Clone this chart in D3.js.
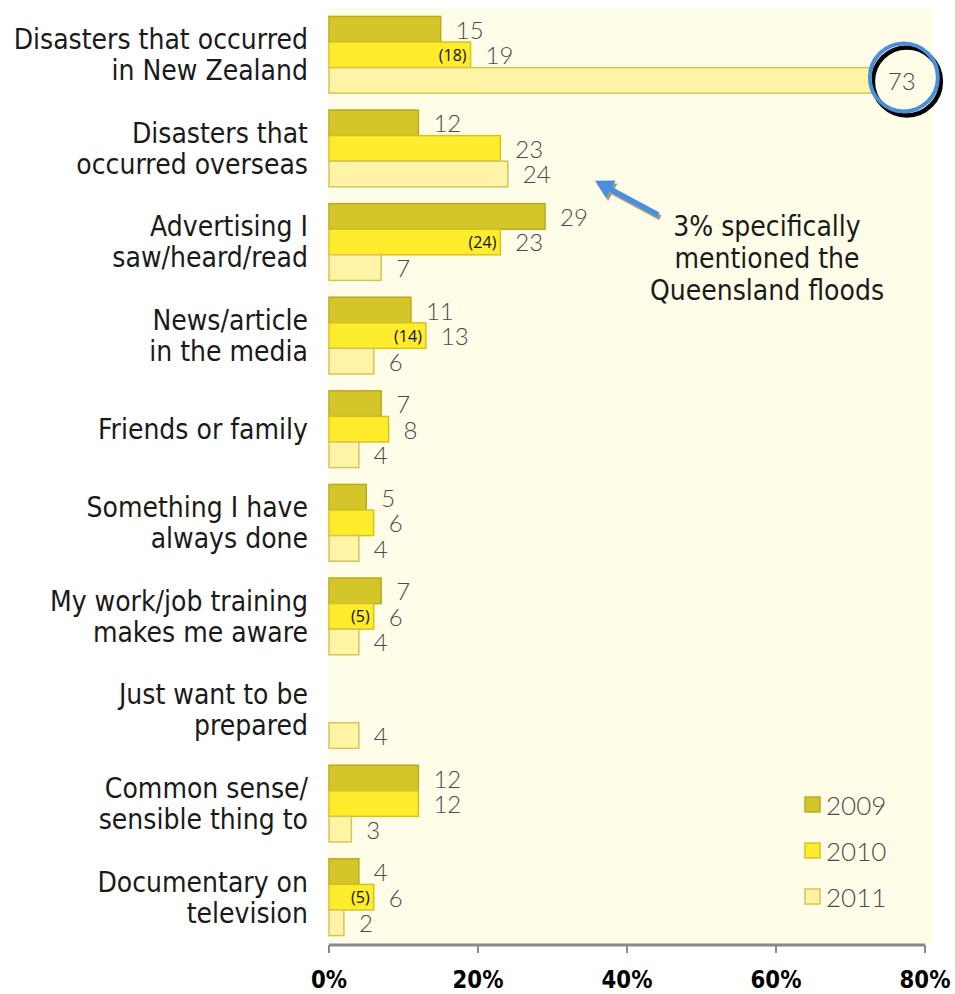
<!DOCTYPE html>
<html>
<head>
<meta charset="utf-8">
<script src="https://cdn.jsdelivr.net/npm/d3@7"></script>
<style>
  html, body { margin: 0; padding: 0; background: #ffffff; }
  svg { display: block; }
</style>
</head>
<body>
<svg id="chart" width="955" height="994"></svg>
<script>
// Reasons for preparing: responses by survey year (%)
const categories = [
  ["Disasters that occurred", "in New Zealand"],
  ["Disasters that", "occurred overseas"],
  ["Advertising I", "saw/heard/read"],
  ["News/article", "in the media"],
  ["Friends or family"],
  ["Something I have", "always done"],
  ["My work/job training", "makes me aware"],
  ["Just want to be", "prepared"],
  ["Common sense/", "sensible thing to"],
  ["Documentary on", "television"]
];
const years = ["2009", "2010", "2011"];
const values2009 = [15, 12, 29, 11, 7, 5, 7, null, 12, 4];
const values2010 = [19, 23, 23, 13, 8, 6, 6, null, 12, 6];
const values2011 = [73, 24, 7, 6, 4, 4, 4, 4, 3, 2];
// earlier published 2010 figures, shown in brackets
const revised2010 = [18, null, 24, 14, null, null, 5, null, null, 5];
const tickValues = [0, 20, 40, 60, 80];
const noteLines = ["3% specifically", "mentioned the", "Queensland floods"];

const fills = { "2009": "#d3c52a", "2010": "#ffec2c", "2011": "#fff4a6" };
const strokes = { "2009": "#b9ab1c", "2010": "#d6c31d", "2011": "#d4c35a" };
const bg = "#fffde8";

const svg = d3.select("#chart");
const x = d3.scaleLinear().domain([0, 80]).range([329, 925]);
const y = d3.scaleBand().domain(d3.range(categories.length))
  .range([8, 944]).paddingInner(0.18).paddingOuter(0.09);
const yy = d3.scaleBand().domain(years).range([0, y.bandwidth()]);

// plot background
svg.append("rect")
  .attr("x", 328).attr("y", 8)
  .attr("width", 604).attr("height", 937)
  .attr("fill", bg);

const rows = categories.map((c, i) => ({
  i,
  label: c,
  vals: [
    { year: "2009", v: values2009[i] },
    { year: "2010", v: values2010[i], prev: revised2010[i] },
    { year: "2011", v: values2011[i] }
  ].filter(d => d.v != null)
}));

const barLayer = svg.append("g");
const ringLayer = svg.append("g");
const labelLayer = svg.append("g");

// bars
const gb = barLayer.selectAll("g").data(rows).join("g")
  .attr("transform", d => `translate(0,${y(d.i)})`);
gb.selectAll("rect").data(d => d.vals).join("rect")
  .attr("x", x(0))
  .attr("y", d => yy(d.year))
  .attr("width", d => x(d.v) - x(0))
  .attr("height", yy.bandwidth())
  .attr("fill", d => fills[d.year])
  .attr("stroke", d => strokes[d.year])
  .attr("stroke-width", 1.5);

// highlight ring around the 2011 New Zealand value
const cx = x(values2011[0]) + 31;
const cyc = y(0) + yy("2011") + yy.bandwidth() / 2 - 3;
ringLayer.append("circle")
  .attr("cx", cx).attr("cy", cyc).attr("r", 34).attr("fill", bg);
ringLayer.append("circle")
  .attr("cx", cx + 3).attr("cy", cyc + 4).attr("r", 34)
  .attr("fill", "none").attr("stroke", "#000").attr("stroke-width", 4.5);
ringLayer.append("circle")
  .attr("cx", cx).attr("cy", cyc).attr("r", 34)
  .attr("fill", "none").attr("stroke", "#4a90d9").attr("stroke-width", 4);

const g = labelLayer.selectAll("g").data(rows).join("g")
  .attr("transform", d => `translate(0,${y(d.i)})`);

// value labels
g.selectAll("text.val").data(d => d.vals).join("text")
  .attr("class", "val")
  .attr("x", d => x(d.v) + 15)
  .attr("y", d => yy(d.year) + yy.bandwidth() / 2)
  .attr("dominant-baseline", "central")
  .attr("font-family", "Lato, 'DejaVu Sans', sans-serif")
  .attr("font-weight", 300)
  .attr("font-size", 24)
  .attr("fill", "#4a4a4a")
  .text(d => d.v);

// bracketed earlier values inside the 2010 bars
g.selectAll("text.prev").data(d => d.vals.filter(v => v.prev != null)).join("text")
  .attr("class", "prev")
  .attr("x", d => x(d.v) - 4)
  .attr("y", d => yy(d.year) + yy.bandwidth() / 2)
  .attr("dominant-baseline", "central")
  .attr("text-anchor", "end")
  .attr("font-family", "'Open Sans', 'Noto Sans', sans-serif")
  .attr("font-size", 16)
  .attr("fill", "#111")
  .text(d => `(${d.prev})`);

// category labels
g.each(function (d) {
  const n = d.label.length;
  const lh = 31;
  const cy = y.bandwidth() / 2;
  d.label.forEach((line, k) => {
    d3.select(this).append("text")
      .attr("transform", `translate(308,${cy + (k - (n - 1) / 2) * lh}) scale(0.9,1)`)
      .attr("text-anchor", "end")
      .attr("dominant-baseline", "central")
      .attr("font-family", "'DejaVu Sans', sans-serif")
      .attr("font-size", 28)
      .attr("fill", "#1a1a1a")
      .text(line);
  });
});

// x axis
const axisY = 945;
const axis = svg.append("g");
axis.append("line")
  .attr("x1", x(0)).attr("x2", x(80))
  .attr("y1", axisY).attr("y2", axisY)
  .attr("stroke", "#8a8a8a").attr("stroke-width", 3);
axis.selectAll("line.tick").data(tickValues).join("line")
  .attr("class", "tick")
  .attr("x1", d => x(d)).attr("x2", d => x(d))
  .attr("y1", axisY).attr("y2", axisY + 8)
  .attr("stroke", "#8a8a8a").attr("stroke-width", 2);
axis.selectAll("text").data(tickValues).join("text")
  .attr("transform", d => `translate(${x(d)},988) scale(0.85,1)`)
  .attr("text-anchor", "middle")
  .attr("font-family", "'DejaVu Sans', sans-serif")
  .attr("font-weight", "bold")
  .attr("font-size", 25)
  .attr("fill", "#000")
  .text(d => d + "%");

// legend
const legend = svg.append("g").selectAll("g").data(years).join("g")
  .attr("transform", (d, i) => `translate(805,${797 + i * 46})`);
legend.append("rect")
  .attr("width", 15).attr("height", 15)
  .attr("fill", d => fills[d]).attr("stroke", d => strokes[d]).attr("stroke-width", 1.5);
legend.append("text")
  .attr("x", 21).attr("y", 8)
  .attr("dominant-baseline", "central")
  .attr("font-family", "Lato, 'DejaVu Sans', sans-serif")
  .attr("font-weight", 300)
  .attr("font-size", 26)
  .attr("fill", "#4a4a4a")
  .text(d => d);

// annotation arrow pointing at the overseas bars
const tip = [x(35.7), y(1) + y.bandwidth() - 6];
const tail = [x(44.2), tip[1] + 34];
function arrowPath(a, b) {
  const dx = b[0] - a[0], dy = b[1] - a[1];
  const len = Math.hypot(dx, dy);
  const ux = dx / len, uy = dy / len, px = -uy, py = ux;
  const hw = 2.6, head = 18, hh = 10;
  const bx = b[0] - ux * head, by = b[1] - uy * head;
  const pts = [
    [a[0] + px * hw, a[1] + py * hw],
    [bx + px * hw, by + py * hw],
    [bx + px * hh, by + py * hh],
    b,
    [bx - px * hh, by - py * hh],
    [bx - px * hw, by - py * hw],
    [a[0] - px * hw, a[1] - py * hw]
  ];
  return d3.line()(pts) + "Z";
}
svg.append("path")
  .attr("d", arrowPath(tail, tip))
  .attr("transform", "translate(2,3)")
  .attr("fill", "#9a9a90");
svg.append("path")
  .attr("d", arrowPath(tail, tip))
  .attr("fill", "#4a8fdc");

svg.append("g").selectAll("text").data(noteLines).join("text")
  .attr("transform", (d, i) => `translate(767,${226 + i * 32}) scale(0.9,1)`)
  .attr("text-anchor", "middle")
  .attr("dominant-baseline", "central")
  .attr("font-family", "'DejaVu Sans', sans-serif")
  .attr("font-size", 28)
  .attr("fill", "#1a1a1a")
  .text(d => d);
</script>
</body>
</html>
